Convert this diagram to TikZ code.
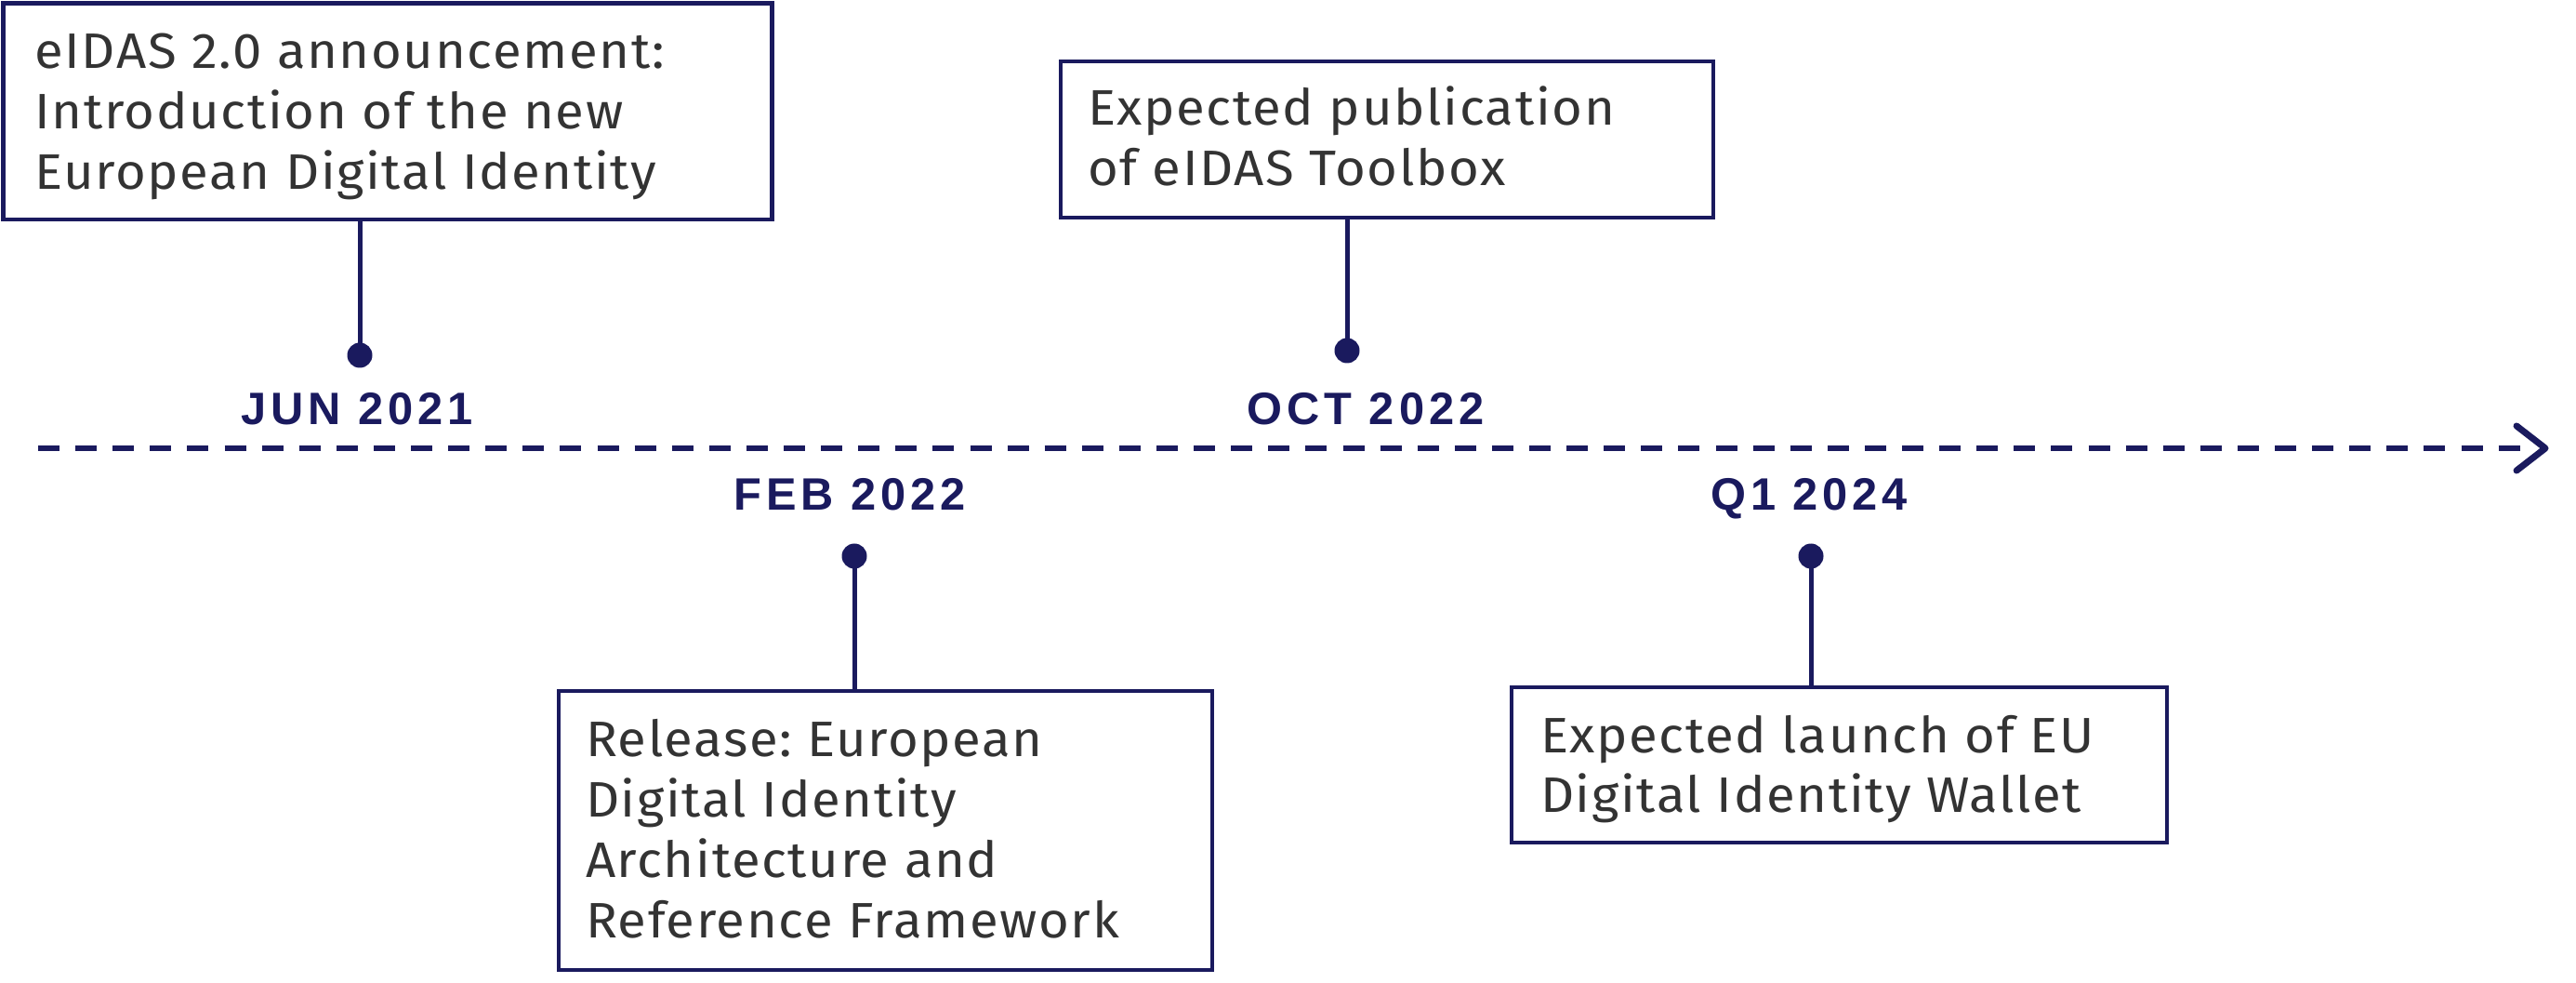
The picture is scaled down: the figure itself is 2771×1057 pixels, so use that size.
\documentclass[tikz,border=0pt]{standalone}
\usepackage{fontspec}
\setmainfont[FakeStretch=1.05, LetterSpace=3]{Fira Sans}
\newfontfamily\datefont[LetterSpace=10]{Liberation Sans}
\definecolor{navyc}{RGB}{26,26,94}
\definecolor{txtgray}{RGB}{51,51,51}
\newdimen\upx \upx=0.25pt
\frenchspacing
\tikzset{
  evbox/.style={draw=navyc, line width=1.15pt, inner sep=0pt, outer sep=0pt,
    anchor=north west},
  evtext/.style={inner sep=0pt, outer sep=0pt, align=left, text=txtgray,
    anchor=north west, font=\fontsize{13.4}{16.25}\selectfont},
  datelbl/.style={text=navyc, font=\datefont\bfseries\fontsize{12.2}{14}\selectfont,
    anchor=base, inner sep=0pt},
  evdot/.style={circle, fill=navyc, inner sep=0pt, minimum size=27\upx},
  stem/.style={draw=navyc, line width=1.25pt},
}
\newcommand{\firstline}{\rule{0pt}{12pt}}
\begin{document}
\begin{tikzpicture}[x=0.25pt, y=-0.25pt]
\useasboundingbox (0,0) rectangle (2771,1057);
% axis
\coordinate (axL) at (41,482);
\coordinate (axR) at (2711,482);
\coordinate (tip) at (2738,482);
\draw[navyc, line width=1.5pt, dash pattern=on 23\upx off 17.1\upx] (axL) -- (axR);
\draw[navyc, line width=1.75pt, line cap=round, line join=round]
  ([shift={(-31,-24)}]tip) -- (tip) -- ([shift={(-31,24)}]tip);
% boxes
\node[evbox, minimum width=827\upx, minimum height=232.5\upx] (b1) at (3.5,3.5) {};
\node[evbox, minimum width=702\upx, minimum height=168\upx] (b2) at (1141,66) {};
\node[evbox, minimum width=703\upx, minimum height=300\upx] (b3) at (601,743) {};
\node[evbox, minimum width=705\upx, minimum height=167\upx] (b4) at (1626,739) {};
% box texts
\node[evtext] (x1) at ([shift={(34,22)}]b1.north west)
  {\firstline eIDAS 2.0 announcement:\\Introduction of the new\\European Digital Identity};
\node[evtext] (x2) at ([shift={(29,21)}]b2.north west)
  {\firstline Expected publication\\of eIDAS Toolbox};
\node[evtext] (x3) at ([shift={(29,22)}]b3.north west)
  {\firstline Release: European\\Digital Identity\\Architecture and\\Reference Framework};
\node[evtext] (x4) at ([shift={(31,22)}]b4.north west)
  {\firstline Expected launch of EU\\Digital Identity Wallet};
% dots
\node[evdot] (d1) at (387,382) {};
\node[evdot] (d2) at (1449,377) {};
\node[evdot] (d3) at (919,598) {};
\node[evdot] (d4) at (1948,598) {};
% stems
\draw[stem] (d1 |- b1.south) -- (d1.center);
\draw[stem] (d2 |- b2.south) -- (d2.center);
\draw[stem] (d3.center) -- (d3 |- b3.north);
\draw[stem] (d4.center) -- (d4 |- b4.north);
% dates
\node[datelbl] (t1) at (384,457) {JUN 2021};
\node[datelbl] (t2) at (1469,457) {OCT 2022};
\node[datelbl] (t3) at (914,549) {FEB 2022};
\node[datelbl] (t4) at (1946,549) {Q1 2024};
\end{tikzpicture}
\end{document}
